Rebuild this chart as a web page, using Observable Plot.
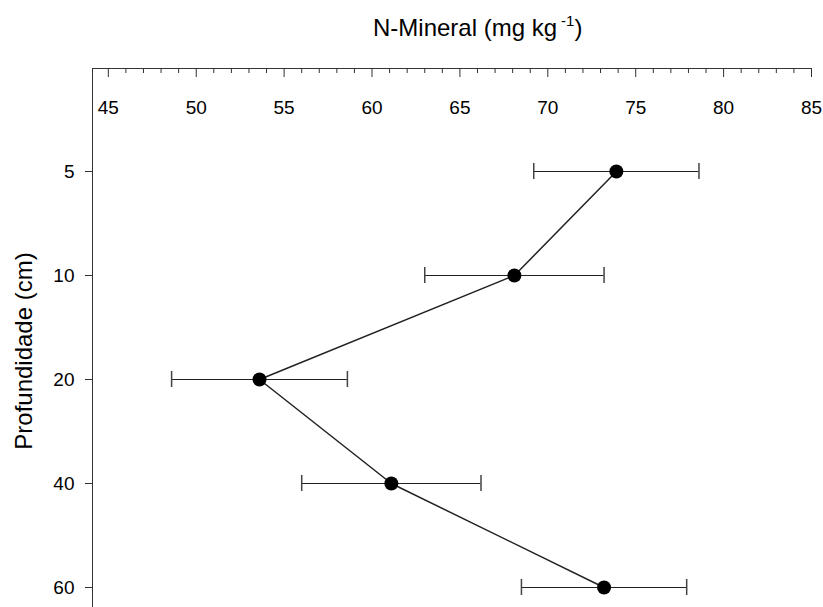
<!DOCTYPE html>
<html>
<head>
<meta charset="utf-8">
<script src="https://cdn.jsdelivr.net/npm/d3@7"></script>
<script src="https://cdn.jsdelivr.net/npm/@observablehq/plot@0.6"></script>
<style>
  body { margin: 0; background: #fff; }
  #chart svg { display: block; }
</style>
</head>
<body>
<div id="chart"></div>
<script>
// Soil depth (cm) and mineral nitrogen (mg kg-1) with standard errors
const depths = [5, 10, 20, 40, 60];
const nMineral = [73.9, 68.1, 53.6, 61.1, 73.2];
const stdError = [4.7, 5.1, 5.0, 5.1, 4.7];

// Axis tick values
const xTicks = [45, 50, 55, 60, 65, 70, 75, 80, 85];
const xMinorTicks = d3.range(46, 85).filter(v => v % 5 !== 0);

const rows = depths.map((depth, i) => ({
  depth,
  n: nMineral[i],
  lo: nMineral[i] - stdError[i],
  hi: nMineral[i] + stdError[i]
}));

const W = 823, H = 607, mTop = 68, mLeft = 92;
const frameH = H - mTop;
const font = "'Liberation Sans', Arial, sans-serif";
const ink = "#333";

const chart = Plot.plot({
  width: W,
  height: H,
  marginLeft: mLeft,
  marginRight: 12,
  marginTop: mTop,
  marginBottom: 0,
  style: { fontFamily: font, fontSize: "19px", color: "#000", background: "#fff" },
  x: { domain: [44.1, 85], axis: null },
  y: { type: "point", domain: depths, range: [171, 587], padding: 0, axis: null },
  marks: [
    // axis lines
    Plot.frame({ anchor: "top", stroke: ink }),
    Plot.ruleX([44.1], { stroke: ink }),
    // top axis ticks, pointing into the plot
    Plot.ruleX(xTicks, { x: d => d, insetBottom: frameH - 9, stroke: ink }),
    Plot.ruleX(xMinorTicks, { x: d => d, insetBottom: frameH - 5, stroke: ink }),
    Plot.text(xTicks, { x: d => d, frameAnchor: "top", dy: 32, text: d => String(d), fontSize: 19, fill: "#000" }),
    // depth axis
    Plot.axisY({ ticks: depths, tickSize: 7, tickPadding: 11, label: null, fontSize: 19, stroke: ink }),
    // error bars
    Plot.ruleY(rows, { y: "depth", x1: "lo", x2: "hi", stroke: "#222", strokeWidth: 1.2 }),
    Plot.ruleX(rows, { x: "lo", y1: "depth", y2: "depth", insetTop: -8, insetBottom: -8, stroke: "#444", strokeWidth: 1.5 }),
    Plot.ruleX(rows, { x: "hi", y1: "depth", y2: "depth", insetTop: -8, insetBottom: -8, stroke: "#444", strokeWidth: 1.5 }),
    // profile line and means
    Plot.line(rows, { x: "n", y: "depth", stroke: "#222", strokeWidth: 1.5 }),
    Plot.dot(rows, { x: "n", y: "depth", r: 7, fill: "#000", stroke: "none" })
  ]
});

const svg = d3.select(chart);

// Axis titles
const title = svg.append("text")
  .attr("x", 373).attr("y", 36)
  .attr("text-anchor", "start")
  .attr("font-family", font).attr("font-size", 24).attr("fill", "#000");
title.append("tspan").text("N-Mineral (mg kg");
title.append("tspan").attr("dx", 4).attr("dy", -10).attr("font-size", 15).text("-1");
title.append("tspan").attr("dy", 10).text(")");

svg.append("text")
  .attr("transform", "translate(32,351) rotate(-90)")
  .attr("text-anchor", "middle")
  .attr("font-family", font).attr("font-size", 24).attr("fill", "#000")
  .text("Profundidade (cm)");

document.getElementById("chart").appendChild(chart);
</script>
</body>
</html>
